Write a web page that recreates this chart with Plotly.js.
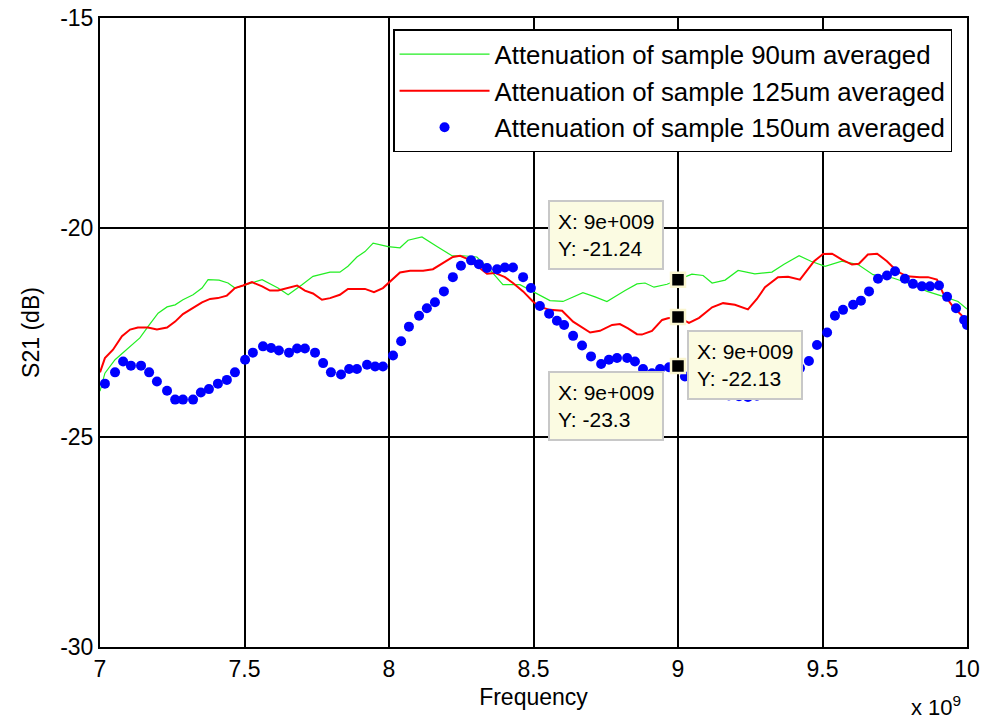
<!DOCTYPE html>
<html>
<head>
<meta charset="utf-8">
<script src="https://cdn.plot.ly/plotly-3.0.1.min.js"></script>
<style>
  html, body { margin: 0; padding: 0; background: #ffffff; }
  #chart { width: 985px; height: 725px; }
</style>
</head>
<body>
<div id="chart"></div>
<script>
// Frequency in units of 1e9 Hz, S21 in dB

// Sample 90um (averaged)
const freq90 = [7.000, 7.017, 7.052, 7.097, 7.138, 7.166, 7.201, 7.232, 7.260, 7.287,
  7.322, 7.353, 7.374, 7.412, 7.443, 7.467, 7.502, 7.561, 7.616, 7.651,
  7.699, 7.737, 7.796, 7.830, 7.858, 7.889, 7.917, 7.945, 7.997, 8.038,
  8.066, 8.114, 8.166, 8.218, 8.256, 8.304, 8.349, 8.394, 8.453, 8.498,
  8.557, 8.602, 8.671, 8.713, 8.754, 8.817, 8.858, 8.886, 8.917, 8.962,
  9.000, 9.048, 9.087, 9.118, 9.163, 9.208, 9.266, 9.325, 9.367, 9.419,
  9.460, 9.509, 9.567, 9.623, 9.675, 9.744, 9.813, 9.862, 9.917, 9.969, 10.000];
const s21_90 = [-23.90, -23.47, -23.15, -22.87, -22.63, -22.36, -22.04, -21.89, -21.84, -21.72,
  -21.60, -21.44, -21.24, -21.25, -21.32, -21.44, -21.37, -21.24, -21.44, -21.60,
  -21.36, -21.16, -21.06, -21.06, -20.92, -20.70, -20.57, -20.37, -20.45, -20.48,
  -20.30, -20.22, -20.45, -20.67, -20.67, -20.70, -21.00, -21.36, -21.36, -21.52,
  -21.74, -21.76, -21.55, -21.65, -21.76, -21.50, -21.34, -21.32, -21.42, -21.35,
  -21.24, -21.11, -21.14, -21.32, -21.25, -21.02, -21.10, -21.06, -20.87, -20.67,
  -20.80, -20.92, -20.80, -20.88, -21.12, -21.20, -21.36, -21.52, -21.64, -21.76, -21.94];

// Sample 125um (averaged)
const freq125 = [7.000, 7.017, 7.045, 7.076, 7.104, 7.131, 7.166, 7.197, 7.232, 7.260,
  7.287, 7.322, 7.353, 7.381, 7.408, 7.439, 7.467, 7.495, 7.526, 7.561,
  7.588, 7.616, 7.647, 7.682, 7.709, 7.737, 7.768, 7.796, 7.830, 7.858,
  7.917, 7.948, 7.979, 8.010, 8.038, 8.073, 8.118, 8.152, 8.187, 8.221,
  8.246, 8.273, 8.304, 8.339, 8.367, 8.401, 8.429, 8.464, 8.498, 8.522,
  8.557, 8.599, 8.637, 8.696, 8.730, 8.772, 8.799, 8.827, 8.858, 8.875,
  8.910, 8.945, 8.965, 9.000, 9.038, 9.073, 9.118, 9.156, 9.197, 9.242,
  9.273, 9.301, 9.346, 9.381, 9.422, 9.446, 9.471, 9.502, 9.533, 9.567,
  9.602, 9.626, 9.657, 9.689, 9.723, 9.758, 9.792, 9.837, 9.865, 9.896,
  9.917, 9.952, 9.986, 10.000];
const s21_125 = [-23.45, -23.11, -22.91, -22.59, -22.43, -22.38, -22.38, -22.43, -22.38, -22.24,
  -22.06, -21.92, -21.78, -21.70, -21.68, -21.62, -21.44, -21.38, -21.30, -21.40,
  -21.50, -21.50, -21.44, -21.38, -21.50, -21.57, -21.72, -21.68, -21.60, -21.46,
  -21.46, -21.54, -21.44, -21.24, -21.07, -21.03, -21.03, -20.99, -20.84, -20.70,
  -20.67, -20.75, -20.91, -21.10, -21.08, -21.18, -21.32, -21.52, -21.76, -21.89,
  -21.96, -21.98, -22.24, -22.50, -22.46, -22.32, -22.30, -22.40, -22.54, -22.55,
  -22.46, -22.20, -22.16, -22.13, -22.27, -22.15, -21.90, -21.80, -21.84, -21.95,
  -21.70, -21.42, -21.18, -21.17, -21.24, -21.02, -20.80, -20.63, -20.62, -20.76,
  -20.88, -20.86, -20.64, -20.62, -20.80, -21.04, -21.16, -21.18, -21.18, -21.24,
  -21.56, -21.89, -22.12, -22.27];

// Sample 150um (averaged), plotted as dots
const freq150 = [7.017, 7.052, 7.080, 7.107, 7.142, 7.170, 7.197, 7.232, 7.260, 7.287,
  7.322, 7.349, 7.377, 7.408, 7.439, 7.467, 7.502, 7.529, 7.564, 7.592,
  7.619, 7.654, 7.682, 7.709, 7.744, 7.772, 7.799, 7.834, 7.862, 7.889,
  7.924, 7.952, 7.979, 8.014, 8.042, 8.069, 8.104, 8.131, 8.159, 8.190,
  8.221, 8.249, 8.284, 8.311, 8.339, 8.374, 8.401, 8.429, 8.464, 8.491,
  8.522, 8.554, 8.581, 8.606, 8.637, 8.668, 8.699, 8.734, 8.761, 8.789,
  8.824, 8.851, 8.879, 8.910, 8.938, 8.969, 9.000, 9.024, 9.055, 9.087,
  9.114, 9.145, 9.176, 9.211, 9.242, 9.273, 9.301, 9.332, 9.363, 9.391,
  9.422, 9.453, 9.481, 9.516, 9.543, 9.571, 9.606, 9.633, 9.661, 9.692,
  9.723, 9.751, 9.785, 9.813, 9.844, 9.872, 9.903, 9.931, 9.962, 9.990, 10.000];
const s21_150 = [-23.72, -23.45, -23.19, -23.29, -23.29, -23.45, -23.67, -23.89, -24.10, -24.10,
  -24.10, -23.93, -23.85, -23.72, -23.63, -23.45, -23.15, -22.98, -22.83, -22.87,
  -22.93, -22.98, -22.88, -22.88, -22.98, -23.23, -23.45, -23.50, -23.37, -23.37,
  -23.27, -23.31, -23.31, -23.05, -22.71, -22.36, -22.10, -21.92, -21.78, -21.52,
  -21.18, -20.91, -20.78, -20.87, -20.96, -20.99, -20.95, -20.95, -21.18, -21.44,
  -21.87, -22.05, -22.22, -22.32, -22.58, -22.81, -23.07, -23.25, -23.15, -23.11,
  -23.11, -23.19, -23.37, -23.47, -23.37, -23.33, -23.30, -23.55, -23.70, -23.80,
  -23.90, -23.95, -24.00, -24.02, -24.04, -24.01, -23.95, -23.85, -23.70, -23.50,
  -23.35, -23.18, -22.80, -22.50, -22.10, -21.96, -21.84, -21.74, -21.52, -21.22,
  -21.14, -21.04, -21.22, -21.34, -21.40, -21.40, -21.38, -21.65, -21.92, -22.20, -22.32];

// Data cursors placed on the three curves at 9 GHz
const tipX = [9, 9, 9];
const tipY = [-21.24, -22.13, -23.3];
const tipXText = ['9e+009', '9e+009', '9e+009'];

const xTicks = [7, 7.5, 8, 8.5, 9, 9.5, 10];
const xTickText = ['7', '7.5', '8', '8.5', '9', '9.5', '10'];
const yTicks = [-30, -25, -20, -15];
const yTickText = ['-30', '-25', '-20', '-15'];

const seriesNames = [
  'Attenuation of sample 90um averaged',
  'Attenuation of sample 125um averaged',
  'Attenuation of sample 150um averaged'
];

const FONT = 'Arial, "Liberation Sans", Helvetica, sans-serif';

const traces = [
  {
    x: freq90, y: s21_90, type: 'scatter', mode: 'lines',
    name: seriesNames[0], legendgroup: 'a',
    line: { color: '#22ee22', width: 1.2 }
  },
  {
    x: freq125, y: s21_125, type: 'scatter', mode: 'lines',
    name: seriesNames[1], legendgroup: 'b',
    line: { color: '#ff0000', width: 2 }
  },
  {
    x: freq150, y: s21_150, type: 'scatter', mode: 'markers',
    name: seriesNames[2], legendgroup: 'c',
    marker: { color: '#0000ff', size: 10, symbol: 'circle' }
  },
  {
    x: tipX, y: tipY, type: 'scatter', mode: 'markers',
    showlegend: false, hoverinfo: 'skip', cliponaxis: false,
    marker: { color: '#000000', size: 14, symbol: 'square',
      line: { color: '#fbf6d0', width: 2.5 } }
  }
];

// Datatip boxes: [xanchor, yanchor, xshift, yshift]
const tipPlacement = [
  ['right', 'bottom', -14, 10],
  ['left', 'top', 9, -13],
  ['right', 'top', -14, -5]
];

const annotations = tipY.map((v, i) => ({
  x: tipX[i], y: v, xref: 'x', yref: 'y',
  text: 'X: ' + tipXText[i] + '<br>Y: ' + String(v),
  showarrow: false, align: 'left',
  xanchor: tipPlacement[i][0], yanchor: tipPlacement[i][1],
  xshift: tipPlacement[i][2], yshift: tipPlacement[i][3],
  bgcolor: '#fbfbe2', bordercolor: '#c8c8c8', borderwidth: 2, borderpad: 8,
  font: { family: FONT, size: 21, color: '#000000' }
}));

// Exponent label under the x axis
annotations.push({
  xref: 'paper', yref: 'paper', x: 0.995, y: -0.119,
  xanchor: 'right', yanchor: 'bottom', showarrow: false,
  text: 'x 10<sup>9</sup>',
  font: { family: FONT, size: 22, color: '#000000' }
});

const layout = {
  width: 985, height: 725,
  paper_bgcolor: '#ffffff', plot_bgcolor: '#ffffff',
  margin: { l: 100, r: 18, t: 18, b: 78, pad: 0 },
  showlegend: true,
  legend: {
    x: 0.338, y: 0.982, xanchor: 'left', yanchor: 'top',
    bgcolor: '#ffffff', bordercolor: '#000000', borderwidth: 1.5,
    font: { family: FONT, size: 25.8, color: '#000000' },
    itemwidth: 90, tracegroupgap: 0, traceorder: 'grouped'
  },
  xaxis: {
    range: [7, 10], tickvals: xTicks, ticktext: xTickText,
    showgrid: true, gridcolor: '#000000', gridwidth: 2,
    showline: true, linecolor: '#000000', linewidth: 2, mirror: true,
    zeroline: false, ticks: '',
    tickfont: { family: FONT, size: 23, color: '#000000' },
    title: { text: 'Frequency', font: { family: FONT, size: 23, color: '#000000' }, standoff: 8 }
  },
  yaxis: {
    range: [-30, -15], tickvals: yTicks, ticktext: yTickText,
    showgrid: true, gridcolor: '#000000', gridwidth: 2,
    showline: true, linecolor: '#000000', linewidth: 2, mirror: true,
    zeroline: false, ticks: '',
    tickfont: { family: FONT, size: 23, color: '#000000' },
    title: { text: 'S21 (dB)', font: { family: FONT, size: 23, color: '#000000' }, standoff: 14 }
  },
  annotations: annotations
};

Plotly.newPlot('chart', traces, layout, { displayModeBar: false, staticPlot: true });
</script>
</body>
</html>
